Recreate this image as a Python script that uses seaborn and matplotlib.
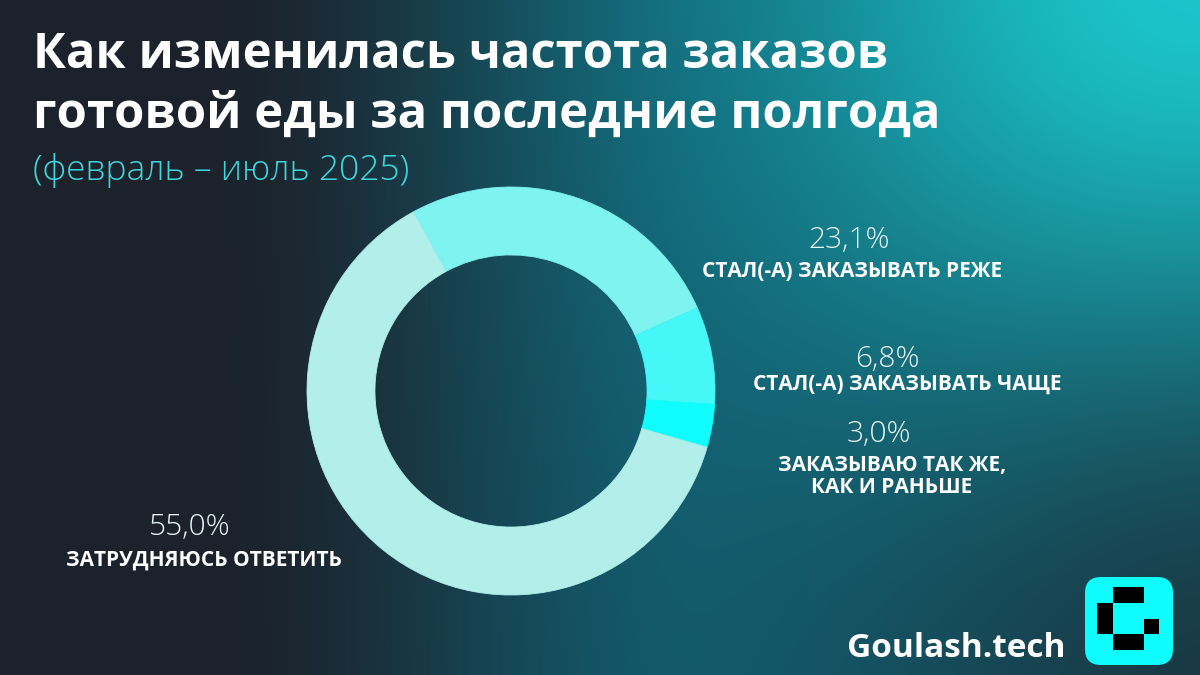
import numpy as np
import matplotlib
matplotlib.use("Agg")
import matplotlib.pyplot as plt
from matplotlib.patches import FancyBboxPatch, Rectangle
import seaborn as sns

# data
categories = ["СТАЛ(-А) ЗАКАЗЫВАТЬ РЕЖЕ", "СТАЛ(-А) ЗАКАЗЫВАТЬ ЧАЩЕ",
              "ЗАКАЗЫВАЮ ТАК ЖЕ,\nКАК И РАНЬШЕ", "ЗАТРУДНЯЮСЬ ОТВЕТИТЬ"]
shares = [23.1, 6.8, 3.0, 55.0]
pct_labels = ["23,1%", "6,8%", "3,0%", "55,0%"]
colors = ["#7ef3ef", "#45f7f7", "#10fdfd", "#b2eeea"]

title = "Как изменилась частота заказов\nготовой еды за последние полгода"
subtitle = "(февраль – июль 2025)"
brand = "Goulash.tech"

W, H = 1200, 675


def px(x, y):
    return x / W, 1 - y / H


def hexrgb(h):
    h = h.lstrip("#")
    return np.array([int(h[i:i + 2], 16) for i in (0, 2, 4)]) / 255.0


def background():
    yy, xx = np.mgrid[0:H, 0:W].astype(float)
    dark = hexrgb("#1c222b")
    teal = hexrgb("#125c6e")
    bright = hexrgb("#1bc8cd")
    t = np.clip((xx - 200) / 520, 0, 1)
    t = t * t * (3 - 2 * t)
    img = dark + t[..., None] * (teal - dark)
    g1 = np.exp(-((xx - 1200) ** 2 + (yy + 20) ** 2) / (2 * 300 ** 2))
    img = img + g1[..., None] * (bright - img)
    g2 = 0.65 * np.exp(-((xx - 1230) ** 2 + (yy - 700) ** 2) / (2 * 260 ** 2))
    img = img + g2[..., None] * (dark - img)
    return np.clip(img, 0, 1)


def main():
    sns.set_theme(style="white")
    plt.rcParams["font.family"] = ["Open Sans", "DejaVu Sans"]

    fig = plt.figure(figsize=(12, 6.75), dpi=100)

    bg = fig.add_axes([0, 0, 1, 1], zorder=0)
    bg.imshow(background(), extent=[0, W, H, 0], aspect="auto", interpolation="bilinear")
    bg.set_xlim(0, W)
    bg.set_ylim(H, 0)
    bg.axis("off")

    # logo
    bg.add_patch(FancyBboxPatch((1085, 577), 88, 88, boxstyle="round,pad=0,rounding_size=16",
                                fc="#0efcfc", ec="none"))
    cells = [(1, 0), (2, 0), (0, 1), (0, 2), (3, 2), (1, 3), (2, 3)]
    for cx, cy in cells:
        bg.add_patch(Rectangle((1097 + cx * 15.5, 587 + cy * 15.8), 15.5, 15.8, fc="black", ec="none"))

    # donut
    cx, cy, r = 511, 391, 204
    ax = fig.add_axes([(cx - r) / W, (H - cy - r) / H, 2 * r / W, 2 * r / H], zorder=2)
    wedges, _ = ax.pie(shares, colors=colors, startangle=118.7, counterclock=False,
                       radius=1, wedgeprops=dict(width=0.333, linewidth=0.6))
    for w, c in zip(wedges, colors):
        w.set_edgecolor(c)
    ax.set_xlim(-1, 1)
    ax.set_ylim(-1, 1)
    ax.set_aspect("equal")
    ax.axis("off")

    # titles
    t1, t2 = title.split("\n")
    fig.text(*px(33, 68), t1, color="white", fontsize=35.3, fontweight="bold", va="baseline")
    fig.text(*px(33, 128), t2, color="white", fontsize=35.3, fontweight="bold", va="baseline")
    fig.text(*px(33, 180), subtitle, color="#3ed6dc", fontsize=25.5, fontweight="light", va="baseline")

    # slice labels: (pct x, pct baseline, name x, name baseline)
    spots = [(849, 248, 852, 277), (887, 367, 907, 390), (879, 442, 892, 471), (190, 535, 204, 566)]
    for (nx, ny, lx, ly), pct, cat in zip(spots, pct_labels, categories):
        fig.text(*px(nx, ny), pct, color="#e6f7f7", fontsize=21.5, fontweight="light",
                 ha="center", va="baseline")
        for i, line in enumerate(cat.split("\n")):
            fig.text(*px(lx, ly + i * 22), line, color="white", fontsize=15, fontweight="bold",
                     ha="center", va="baseline")

    fig.text(*px(847, 657), brand, color="white", fontsize=24, fontweight="bold", va="baseline")

    fig.savefig("out.png", dpi=100)


if __name__ == "__main__":
    main()
